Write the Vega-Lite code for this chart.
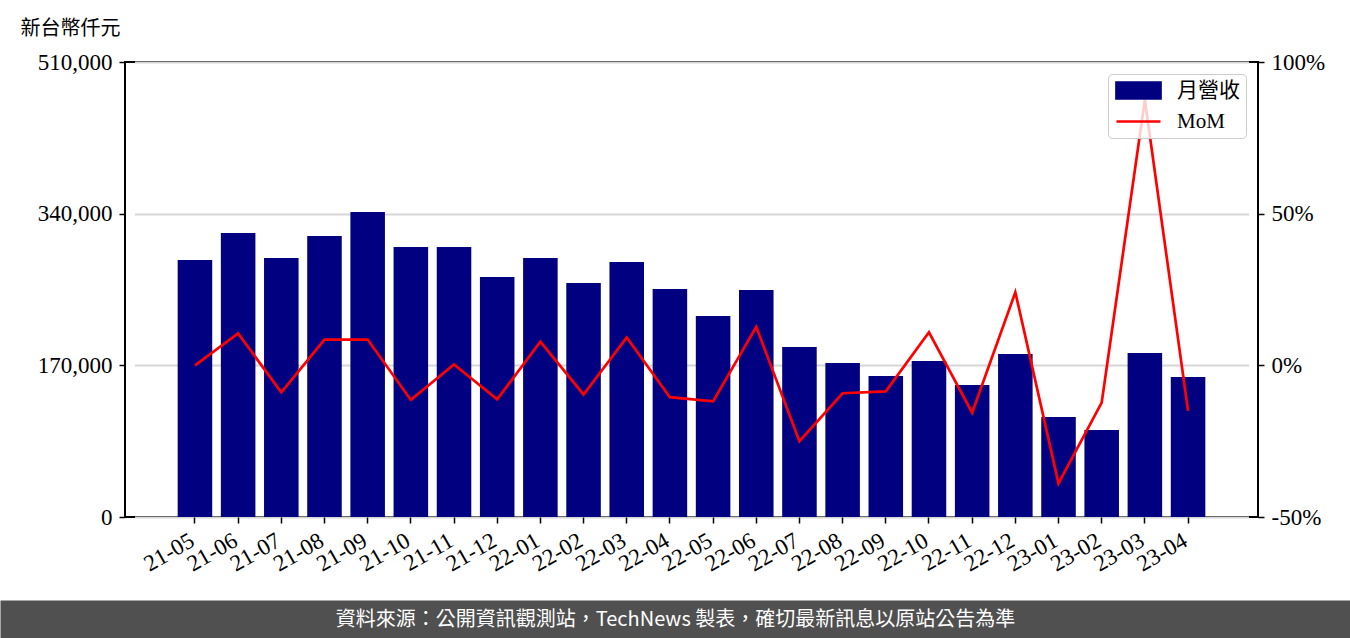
{
  "$schema": "https://vega.github.io/schema/vega-lite/v6.json",
  "width": 1133,
  "height": 455,
  "autosize": {"type": "none"},
  "padding": {"left": 125, "top": 62, "right": 92, "bottom": 121},
  "background": "white",
  "config": {
    "view": {"stroke": "black", "strokeWidth": 2},
    "axis": {"labelColor": "black", "tickColor": "black", "tickWidth": 1.5, "tickSize": 6, "domain": false, "labelFont": "Liberation Serif", "labelFontSize": 23}
  },
  "data": {"values": [
    {"month": "21-05", "revenue": 288100, "mom": 0.0},
    {"month": "21-06", "revenue": 318300, "mom": 10.5},
    {"month": "21-07", "revenue": 290300, "mom": -8.9},
    {"month": "21-08", "revenue": 315000, "mom": 8.5},
    {"month": "21-09", "revenue": 341900, "mom": 8.5},
    {"month": "21-10", "revenue": 302600, "mom": -11.4},
    {"month": "21-11", "revenue": 302600, "mom": 0.3},
    {"month": "21-12", "revenue": 269000, "mom": -11.2},
    {"month": "22-01", "revenue": 290300, "mom": 7.8},
    {"month": "22-02", "revenue": 262300, "mom": -9.6},
    {"month": "22-03", "revenue": 285800, "mom": 9.2},
    {"month": "22-04", "revenue": 255600, "mom": -10.5},
    {"month": "22-05", "revenue": 225300, "mom": -11.9},
    {"month": "22-06", "revenue": 254400, "mom": 12.7},
    {"month": "22-07", "revenue": 190600, "mom": -25.0},
    {"month": "22-08", "revenue": 172600, "mom": -9.2},
    {"month": "22-09", "revenue": 158100, "mom": -8.6},
    {"month": "22-10", "revenue": 174900, "mom": 10.9},
    {"month": "22-11", "revenue": 148000, "mom": -15.6},
    {"month": "22-12", "revenue": 182700, "mom": 24.1},
    {"month": "23-01", "revenue": 112100, "mom": -38.9},
    {"month": "23-02", "revenue": 97500, "mom": -12.3},
    {"month": "23-03", "revenue": 183800, "mom": 87.5},
    {"month": "23-04", "revenue": 156900, "mom": -15.0}
  ]},
  "layer": [
    {
      "mark": {"type": "bar"},
      "encoding": {
        "x": {"field": "month", "type": "nominal", "sort": null,
          "scale": {"type": "band", "paddingInner": 0.2, "paddingOuter": 1, "range": [9.5, 1123.5]},
          "axis": {"title": null, "labelAngle": -30, "labelAlign": "right", "labelBaseline": "top", "labelPadding": 6, "labelOffset": -8, "labelOverlap": false}},
        "y": {"field": "revenue", "type": "quantitative",
          "scale": {"domain": [0, 510000], "nice": false},
          "axis": {"title": "新台幣仟元", "titleAngle": 0, "titleX": -105, "titleY": -34, "titleAlign": "left", "titleBaseline": "middle",
            "titleFont": "Noto Sans CJK TC", "titleFontSize": 20, "titleFontWeight": "normal", "titleColor": "black",
            "values": [0, 170000, 340000, 510000], "format": ",.0f", "labelPadding": 7,
            "grid": true, "gridColor": "#d6d6d6", "gridWidth": 1.8}},
        "color": {"datum": "月營收", "type": "nominal",
          "scale": {"domain": ["月營收", "MoM"], "range": ["#000080", "#ff0000"]},
          "legend": {"title": null, "orient": "top-right", "offset": 12, "fillColor": "rgba(255,255,255,0.8)", "strokeColor": "#cccccc", "cornerRadius": 4, "padding": 6,
            "labelFont": "Liberation Serif, Noto Sans CJK TC", "labelFontSize": 21, "labelColor": "black", "symbolSize": 256, "rowPadding": 6, "labelOffset": 42,
            "encode": {"symbols": {"update": {
              "shape": {"signal": "datum.value === 'MoM' ? 'M-1,0H4.5' : 'M-1,-1H4.5V1H-1Z'"},
              "fill": {"signal": "datum.value === 'MoM' ? 'transparent' : '#000080'"},
              "stroke": {"signal": "datum.value === 'MoM' ? '#ff0000' : 'transparent'"},
              "strokeWidth": {"value": 2.7},
              "opacity": {"value": 1}
            }}}}}
      }
    },
    {
      "mark": {"type": "line", "strokeWidth": 2.7},
      "encoding": {
        "x": {"field": "month", "type": "nominal", "sort": null,
          "scale": {"type": "band", "paddingInner": 0.2, "paddingOuter": 1, "range": [9.5, 1123.5]}, "axis": null},
        "y": {"field": "mom", "type": "quantitative",
          "scale": {"domain": [-50, 100], "nice": false},
          "axis": {"title": null, "orient": "right", "values": [-50, 0, 50, 100], "labelExpr": "datum.value + '%'", "labelPadding": 7, "grid": false}},
        "color": {"datum": "MoM", "type": "nominal",
          "legend": {"title": null, "orient": "top-right", "offset": 12, "fillColor": "rgba(255,255,255,0.8)", "strokeColor": "#cccccc", "cornerRadius": 4, "padding": 6,
            "labelFont": "Liberation Serif, Noto Sans CJK TC", "labelFontSize": 21, "labelColor": "black", "symbolSize": 256, "rowPadding": 6, "labelOffset": 42,
            "encode": {"symbols": {"update": {
              "shape": {"signal": "datum.value === 'MoM' ? 'M-1,0H4.5' : 'M-1,-1H4.5V1H-1Z'"},
              "fill": {"signal": "datum.value === 'MoM' ? 'transparent' : '#000080'"},
              "stroke": {"signal": "datum.value === 'MoM' ? '#ff0000' : 'transparent'"},
              "strokeWidth": {"value": 2.7},
              "opacity": {"value": 1}
            }}}}}
      }
    },
    {
      "data": {"values": [{"f": 0}, {"f": 1}]},
      "mark": {"type": "point", "opacity": 0},
      "encoding": {
        "x": {"field": "f", "type": "quantitative",
          "scale": {"domain": [0, 1], "range": [-125, 1225], "nice": false, "zero": false},
          "axis": {"orient": "bottom", "offset": 102, "domain": true, "domainWidth": 38, "domainColor": "#505050", "ticks": false, "labels": false, "grid": false,
            "title": "資料來源：公開資訊觀測站，TechNews 製表，確切最新訊息以原站公告為準",
            "titleX": 550, "titleY": 0, "titleAlign": "center", "titleAnchor": null, "titleBaseline": "middle", "titleColor": "white",
            "titleFont": "Noto Sans CJK TC", "titleFontSize": 20, "titleFontWeight": "normal"}}
      }
    }
  ],
  "resolve": {"scale": {"y": "independent", "x": "independent"}}
}
